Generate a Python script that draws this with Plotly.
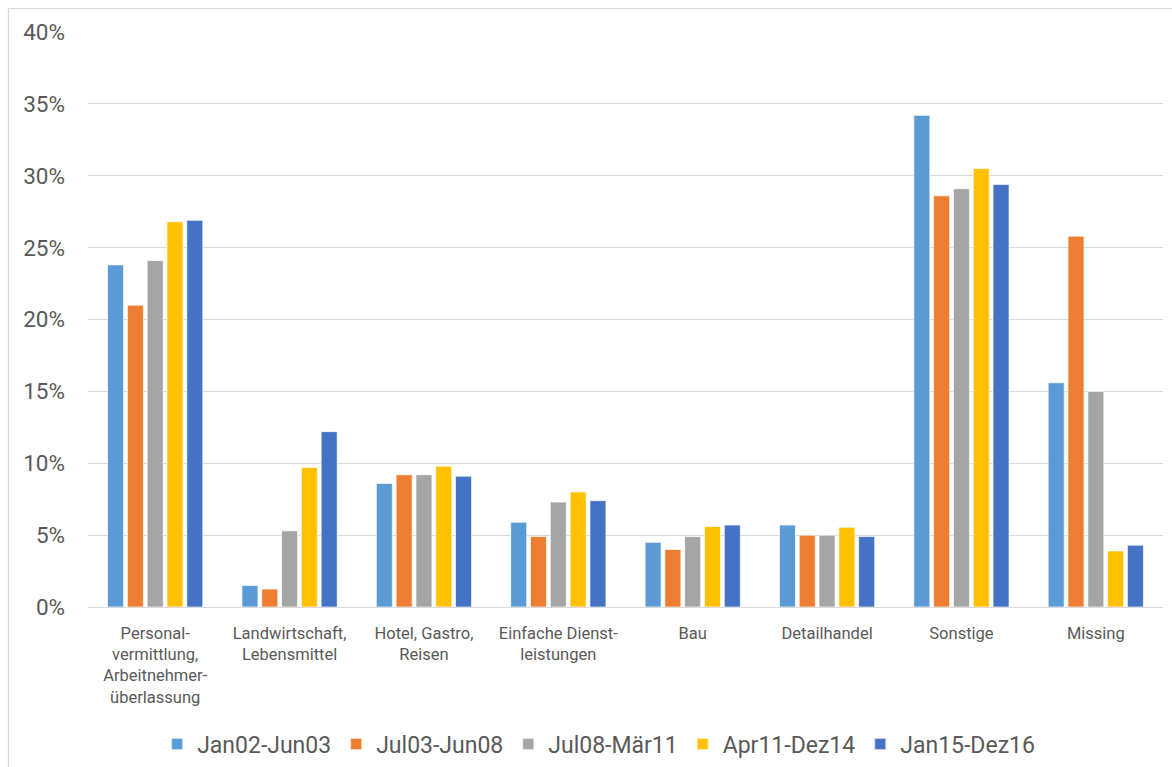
import plotly.graph_objects as go

# Branchen (x axis categories)
categories = [
    "Personal-<br>vermittlung,<br>Arbeitnehmer-<br>überlassung",
    "Landwirtschaft,<br>Lebensmittel",
    "Hotel, Gastro,<br>Reisen",
    "Einfache Dienst-<br>leistungen",
    "Bau",
    "Detailhandel",
    "Sonstige",
    "Missing",
]

# Zeitperioden (series)
periods = ["Jan02-Jun03", "Jul03-Jun08", "Jul08-Mär11", "Apr11-Dez14", "Jan15-Dez16"]

# Anteile in Prozent je Periode
jan02_jun03 = [23.8, 1.5, 8.6, 5.9, 4.5, 5.7, 34.2, 15.6]
jul03_jun08 = [21.0, 1.25, 9.2, 4.9, 4.0, 5.0, 28.6, 25.8]
jul08_maer11 = [24.1, 5.3, 9.2, 7.3, 4.9, 5.0, 29.1, 15.0]
apr11_dez14 = [26.8, 9.7, 9.8, 8.0, 5.6, 5.55, 30.5, 3.9]
jan15_dez16 = [26.9, 12.2, 9.1, 7.4, 5.7, 4.9, 29.4, 4.3]

series_values = [jan02_jun03, jul03_jun08, jul08_maer11, apr11_dez14, jan15_dez16]
colors = ["#5B9BD5", "#ED7D31", "#A5A5A5", "#FFC000", "#4472C4"]

y_ticks = [0, 5, 10, 15, 20, 25, 30, 35, 40]

FONT = "Roboto, Arial, sans-serif"
TEXT_COLOR = "#595959"
GRID = "#d9d9d9"

W, H = 1172, 767
L, R, T, B = 88, 9, 32, 160
plot_w = W - L - R
plot_h = H - T - B

fig = go.Figure()
for name, vals, col in zip(periods, series_values, colors):
    fig.add_trace(go.Bar(
        x=categories,
        y=[v / 100 for v in vals],
        name=name,
        marker=dict(color=col, line=dict(color="rgba(255,255,255,0.7)", width=1)),
    ))


def px_to_paper_x(px):
    return (px - L) / plot_w


def px_to_paper_y(py):
    return (H - B - py) / plot_h


# light chart frame around the whole graphic
fig.add_shape(
    type="rect", xref="paper", yref="paper",
    x0=px_to_paper_x(8.5), x1=px_to_paper_x(1200),
    y0=px_to_paper_y(800), y1=px_to_paper_y(8.5),
    line=dict(color="#d9d9d9", width=1.2), fillcolor="rgba(0,0,0,0)",
    layer="below",
)

fig.update_layout(
    width=W, height=H,
    margin=dict(l=L, r=R, t=T, b=B, pad=0, autoexpand=False),
    paper_bgcolor="white", plot_bgcolor="white",
    barmode="group", bargap=0.263, bargroupgap=0.19,
    font=dict(family=FONT, color=TEXT_COLOR),
    showlegend=True,
    legend=dict(
        orientation="h", x=0.475, xanchor="center",
        y=px_to_paper_y(744), yanchor="middle",
        font=dict(size=23, color=TEXT_COLOR, family=FONT),
        itemsizing="constant", traceorder="normal",
        itemwidth=30,
    ),
    xaxis=dict(
        showgrid=False, showline=False, zeroline=False, automargin=False,
        tickfont=dict(size=16.5, color=TEXT_COLOR, family=FONT),
        ticks="", ticklabelstandoff=14,
    ),
    yaxis=dict(
        range=[0, 0.40], automargin=False,
        tickvals=[v / 100 for v in y_ticks],
        ticktext=[f"{v}%" for v in y_ticks],
        showgrid=True, gridcolor=GRID, gridwidth=1.2,
        zeroline=True, zerolinecolor=GRID, zerolinewidth=1.2,
        showline=False, ticks="",
        tickfont=dict(size=22.5, color=TEXT_COLOR, family=FONT),
        ticklabelstandoff=22,
    ),
)

fig.write_html("out.html")
